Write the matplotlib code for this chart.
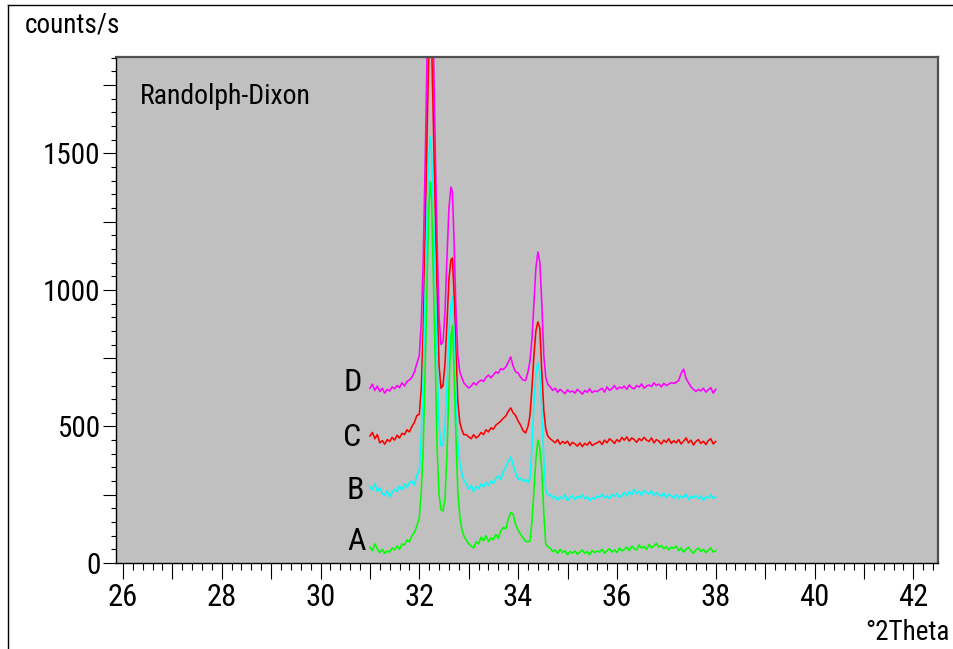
import matplotlib
matplotlib.use('Agg')
from matplotlib import pyplot as plt
from matplotlib import font_manager
from matplotlib.ticker import MultipleLocator, FuncFormatter
from matplotlib.lines import Line2D

# узкий шрифт в духе Arial Narrow
names = {f.name for f in font_manager.fontManager.ttflist}
narrow = 'Liberation Sans'
for cand in ['Liberation Sans Narrow', 'Arial Narrow', 'Roboto Condensed', 'Archivo Narrow', 'PT Sans Narrow']:
    if cand in names:
        narrow = cand
        break
plt.rcParams['font.family'] = [narrow, 'DejaVu Sans']

# углы 2Theta (общая сетка для всех сканов)
two_theta = [31.00, 31.05, 31.10, 31.15, 31.20, 31.25, 31.30, 31.35, 31.40, 31.45,
             31.50, 31.55, 31.60, 31.65, 31.70, 31.75, 31.80, 31.85, 31.90, 31.95,
             32.00, 32.04, 32.08, 32.12, 32.16, 32.19, 32.22, 32.25, 32.28, 32.32,
             32.36, 32.40, 32.44, 32.48, 32.52, 32.56, 32.60, 32.64, 32.67, 32.70,
             32.74, 32.78, 32.82, 32.86, 32.90,
             32.95, 33.00, 33.05, 33.10, 33.15, 33.20, 33.25, 33.30, 33.35, 33.40,
             33.45, 33.50, 33.55, 33.60, 33.65, 33.70, 33.75, 33.80, 33.85, 33.90,
             33.95, 34.00, 34.05, 34.10, 34.15, 34.20,
             34.24, 34.28, 34.32, 34.36, 34.40, 34.44, 34.48, 34.52, 34.56, 34.60,
             34.65, 34.70, 34.75, 34.80, 34.85, 34.90, 34.95, 35.00, 35.05, 35.10,
             35.15, 35.20, 35.25, 35.30, 35.35, 35.40, 35.45, 35.50, 35.55, 35.60,
             35.65, 35.70, 35.75, 35.80, 35.85, 35.90, 35.95, 36.00, 36.05, 36.10,
             36.15, 36.20, 36.25, 36.30, 36.35, 36.40, 36.45, 36.50, 36.55, 36.60,
             36.65, 36.70, 36.75, 36.80, 36.85, 36.90, 36.95, 37.00, 37.05, 37.10,
             37.15, 37.20, 37.25, 37.30, 37.35, 37.40, 37.45, 37.50, 37.55, 37.60,
             37.65, 37.70, 37.75, 37.80, 37.85, 37.90, 37.95, 38.00]

scan_a = [58, 45, 70, 52, 38, 50, 35, 44, 40, 55, 48, 62, 50, 70, 66, 85, 78, 100, 112, 135,
          165, 260, 430, 720, 1050, 1290, 1395, 1320, 1080, 760, 420, 250, 195, 190, 235,
          400, 640, 830, 870, 720, 470, 260, 170, 125, 100,
          85, 70, 62, 55, 78, 70, 95, 82, 100, 78, 92, 85, 105, 90, 118, 130, 125, 160, 185,
          178, 140, 120, 105, 92, 80, 78,
          80, 150, 260, 380, 450, 420, 340, 180, 70, 60,
          55, 42, 48, 35, 50, 38, 45, 30, 42, 36,
          44, 32, 40, 48, 35, 42, 30, 46, 38, 44,
          40, 50, 36, 45, 52, 40, 48, 38, 55, 44,
          50, 58, 45, 62, 52, 48, 66, 55, 60, 50,
          68, 56, 62, 72, 58, 64, 52, 60, 48, 58,
          54, 62, 45, 55, 40, 50, 58, 44, 36, 48,
          55, 42, 50, 38, 46, 55, 40, 45]

scan_b = [280, 268, 290, 262, 275, 255, 248, 265, 242, 258, 270, 262, 282, 268, 290, 276, 295, 300, 285, 320,
          340, 470, 680, 1000, 1300, 1480, 1560, 1500, 1320, 1050, 740, 500, 430, 430, 500,
          650, 850, 950, 975, 860, 620, 440, 365, 330, 305,
          290, 270, 285, 262, 280, 272, 290, 278, 295, 285, 300, 292, 310, 318, 305, 335, 350, 372, 388,
          360, 330, 305, 312, 300, 305, 295,
          310, 420, 580, 690, 733, 700, 560, 380, 265, 250,
          250, 238, 245, 230, 242, 236, 250, 228, 240, 246,
          232, 244, 238, 250, 236, 242, 228, 240, 234, 246,
          240, 252, 238, 246, 236, 250, 244, 255, 240, 248,
          258, 245, 262, 250, 270, 255, 262, 248, 266, 258,
          252, 264, 248, 258, 250, 244, 256, 240, 252, 246,
          238, 250, 236, 246, 240, 252, 232, 244, 238, 248,
          236, 245, 230, 242, 238, 250, 236, 242]

scan_c = [465, 478, 455, 470, 440, 448, 435, 452, 445, 460, 450, 468, 458, 475, 470, 488, 480, 500, 515, 540,
          545, 640, 860, 1200, 1600, 1850, 1980, 1900, 1650, 1300, 980, 720, 640, 650, 730,
          880, 1040, 1110, 1117, 1000, 780, 590, 515, 488, 470,
          470, 462, 455, 470, 458, 465, 478, 470, 488, 480, 495, 490, 505, 512, 520, 530, 538, 555, 568,
          550, 540, 520, 505, 485, 476, 500,
          540, 640, 760, 850, 883, 860, 700, 560, 490, 465,
          455, 448, 440, 452, 435, 445, 438, 446, 430, 442,
          436, 428, 440, 426, 438, 432, 444, 430, 436, 440,
          446, 434, 450, 440, 455, 448, 438, 452, 444, 460,
          450, 462, 446, 458, 452, 442, 456, 448, 460, 450,
          445, 458, 440, 452, 446, 436, 450, 442, 455, 438,
          448, 440, 452, 436, 446, 458, 440, 450, 432, 445,
          452, 438, 446, 434, 448, 455, 436, 445]

scan_d = [640, 655, 632, 648, 628, 640, 622, 636, 630, 645, 638, 650, 642, 660, 648, 665, 670, 680, 700, 730,
          760, 880, 1120, 1480, 1900, 2200, 2350, 2250, 1950, 1550, 1180, 900, 800, 810, 920,
          1120, 1300, 1377, 1360, 1200, 940, 760, 700, 680, 660,
          650, 641, 648, 660, 652, 663, 670, 665, 680, 688, 678, 689, 700, 695, 712, 708, 718, 735, 755,
          720, 700, 696, 680, 670, 668, 700,
          740, 820, 950, 1080, 1139, 1100, 950, 760, 680, 655,
          645, 632, 640, 625, 636, 628, 620, 634, 626, 630,
          622, 636, 628, 618, 632, 625, 638, 624, 630, 628,
          634, 640, 626, 645, 632, 638, 650, 636, 644, 640,
          648, 636, 652, 642, 638, 650, 644, 656, 640, 648,
          652, 646, 660, 650, 655, 645, 658, 650, 655, 660,
          658, 662, 668, 695, 710, 675, 660, 645, 636, 628,
          636, 630, 640, 626, 634, 642, 622, 636]

scan_names = ['A', 'B', 'C', 'D']
scan_colors = ['#00ff00', '#00ffff', '#ff0000', '#ff00ff']
label_x = [30.73, 30.71, 30.65, 30.65]
label_y = [80, 265, 460, 660]

fig = plt.figure(figsize=(9.54, 6.49), dpi=100)
ax = fig.add_axes([116 / 954, 1 - 563 / 649, 822 / 954, 506 / 649])
ax.set_facecolor('#c0c0c0')

# рамка картинки слева и сверху
fig.add_artist(Line2D([8 / 954, 8 / 954], [0, 1 - 5 / 649], transform=fig.transFigure, color='black', lw=1))
fig.add_artist(Line2D([8 / 954, 953 / 954], [1 - 5 / 649, 1 - 5 / 649], transform=fig.transFigure, color='black', lw=1))

# сканы: D снизу, A сверху
scans = [scan_a, scan_b, scan_c, scan_d]
for scan, color in reversed(list(zip(scans, scan_colors))):
    ax.plot(two_theta, scan, color=color, lw=1.15)

for name, x, y in zip(scan_names, label_x, label_y):
    ax.text(x, y, name, fontsize=23, ha='center', va='center')

ax.text(0.029, 0.921, 'Randolph-Dixon', transform=ax.transAxes, fontsize=20, ha='left', va='center')

ax.set_xlim(25.86, 42.5)
ax.set_ylim(0, 1853)

ax.xaxis.set_major_locator(MultipleLocator(1))
ax.xaxis.set_minor_locator(MultipleLocator(0.2))
ax.xaxis.set_major_formatter(FuncFormatter(lambda v, p: '%d' % round(v) if round(v) % 2 == 0 else ''))
ax.yaxis.set_major_locator(MultipleLocator(250))
ax.yaxis.set_minor_locator(MultipleLocator(50))
ax.yaxis.set_major_formatter(FuncFormatter(lambda v, p: '%d' % round(v) if round(v) % 500 == 0 else ''))

ax.tick_params(axis='x', which='major', direction='out', length=11.5, width=0.8, pad=3, labelsize=22)
ax.tick_params(axis='x', which='minor', direction='out', length=5, width=0.8)
ax.tick_params(axis='y', which='major', direction='out', length=9.5, width=0.8, pad=1.5, labelsize=21)
ax.tick_params(axis='y', which='minor', direction='out', length=3.5, width=0.8)

for side in ['left', 'bottom']:
    ax.spines[side].set_color('black')
    ax.spines[side].set_linewidth(1)
for side in ['top', 'right']:
    ax.spines[side].set_color('#505050')
    ax.spines[side].set_linewidth(1.6)

fig.text(25 / 954, 1 - 25 / 649, 'counts/s', fontsize=19.5, ha='left', va='center')
fig.text(950 / 954, 1 - 633 / 649, '°2Theta', fontsize=19.5, ha='right', va='center')

fig.savefig('out.png', dpi=100)
